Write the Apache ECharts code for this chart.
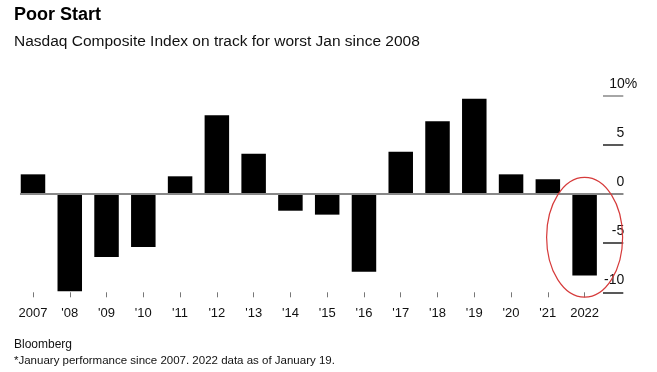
<!DOCTYPE html>
<html><head><meta charset="utf-8">
<script src="https://cdn.jsdelivr.net/npm/echarts@6.0.0/dist/echarts.min.js"></script>
<style>html,body{margin:0;padding:0;background:#fff}#c{width:657px;height:372px}</style>
</head><body><div id="c"></div>
<script>
const categories = ['2007', "'08", "'09", "'10", "'11", "'12", "'13", "'14", "'15", "'16", "'17", "'18", "'19", "'20", "'21", '2022'];
const values = [2.0, -9.9, -6.4, -5.4, 1.8, 8.0, 4.1, -1.7, -2.1, -7.9, 4.3, 7.4, 9.7, 2.0, 1.5, -8.3];
const yTicks = [-10, -5, 0, 5, 10];
const titleText = 'Poor Start';
const subtitleText = 'Nasdaq Composite Index on track for worst Jan since 2008';
const sourceText = 'Bloomberg';
const noteText = '*January performance since 2007. 2022 data as of January 19.';

const FONT = "'Liberation Sans', Arial, sans-serif";
const chart = echarts.init(document.getElementById('c'), null, {renderer: 'canvas'});
const gridTop = 95.7, gridBottom = 372 - 292.3;
chart.setOption({
  animation: false,
  backgroundColor: '#fff',
  textStyle: {fontFamily: FONT},
  title: [
    {text: titleText, left: 14, top: 6, padding: 0, textStyle: {fontFamily: FONT, fontWeight: 'bold', fontSize: 18, color: '#000'}},
    {text: subtitleText, left: 14, top: 34, padding: 0, textStyle: {fontFamily: FONT, fontWeight: 'normal', fontSize: 15.5, color: '#111'}},
    {text: sourceText, left: 14, top: 339, padding: 0, textStyle: {fontFamily: FONT, fontWeight: 'normal', fontSize: 12, color: '#111'}},
    {text: noteText, left: 14, top: 355, padding: 0, textStyle: {fontFamily: FONT, fontWeight: 'normal', fontSize: 11.5, color: '#111'}}
  ],
  grid: [
    {left: 14.6, width: 588.4, top: gridTop, bottom: gridBottom},
    {left: 603, width: 20.3, top: gridTop, bottom: gridBottom}
  ],
  xAxis: [
    {type: 'category', gridIndex: 0, data: categories,
     axisLine: {show: false, onZero: false},
     axisTick: {show: true, alignWithLabel: true, length: 5, lineStyle: {color: '#777', width: 1}},
     axisLabel: {color: '#111', fontSize: 13, margin: 14.5, interval: 0, fontFamily: FONT}},
    {type: 'value', gridIndex: 1, show: false, min: 0, max: 1}
  ],
  yAxis: [
    {type: 'value', gridIndex: 0, min: -10, max: 10, interval: 5, show: false},
    {type: 'value', gridIndex: 1, min: -10, max: 10, interval: 5, position: 'right',
     axisLine: {show: false}, axisTick: {show: false},
     splitLine: {show: true, lineStyle: {color: ['#222', '#222', '#888', '#222', '#888'], width: 1.5}},
     axisLabel: {show: true, inside: false, margin: 14, align: 'right', verticalAlign: 'bottom',
       padding: [0, 0, 5, 0], color: '#111', fontSize: 14, fontFamily: FONT,
       formatter: v => v === 10 ? '10%' : String(v) + '{s|}',
       rich: {s: {width: 13}}}}
  ],
  series: [
    {type: 'bar', xAxisIndex: 0, yAxisIndex: 0, data: values, barWidth: 24.5,
     itemStyle: {color: '#000'}}
  ]
});

// zero line and highlight ellipse, positioned from the axes
const z0 = chart.convertToPixel({xAxisIndex: 0, yAxisIndex: 0}, [0, 0]);
const zEnd = chart.convertToPixel({xAxisIndex: 1, yAxisIndex: 1}, [1, 0]);
const last = categories.length - 1;
const eTop = chart.convertToPixel({xAxisIndex: 0, yAxisIndex: 0}, [last, 1.7]);
const eBot = chart.convertToPixel({xAxisIndex: 0, yAxisIndex: 0}, [last, -10.5]);
chart.setOption({
  graphic: [
    {type: 'line', z: 10, shape: {x1: z0[0] - 13, y1: z0[1], x2: zEnd[0], y2: zEnd[1]},
     style: {stroke: '#888', lineWidth: 2}},
    {type: 'ellipse', z: 11, shape: {cx: eTop[0], cy: (eTop[1] + eBot[1]) / 2, rx: 38, ry: (eBot[1] - eTop[1]) / 2},
     style: {fill: 'none', stroke: '#d63a3a', lineWidth: 1.2}}
  ]
});
</script></body></html>
